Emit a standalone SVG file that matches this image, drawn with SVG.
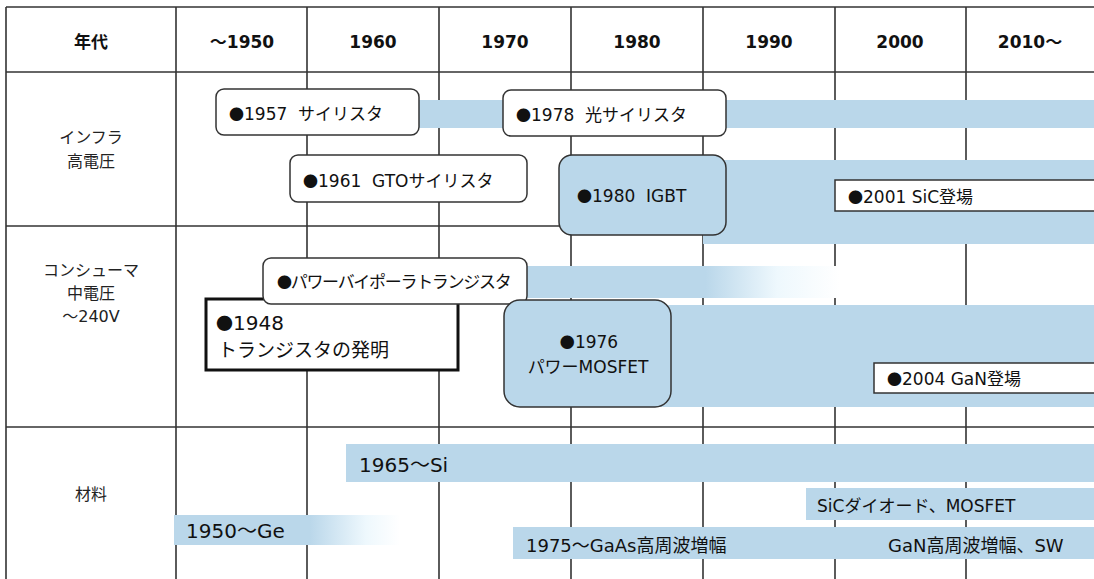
<svg xmlns="http://www.w3.org/2000/svg" width="1094" height="579" viewBox="0 0 1094 579">
<defs>
<style>
.grid{stroke:#333;stroke-width:1.6;fill:none}
.bar{fill:#BAD7EA}
.wbox{fill:#fff;stroke:#333;stroke-width:1.5}
.bbox{fill:#BAD7EA;stroke:#333;stroke-width:1.5}
text{font-family:"DejaVu Sans","Noto Sans CJK JP",sans-serif;fill:#111;white-space:pre}
.h{font-size:17px;font-weight:bold;text-anchor:middle}
.lbl{font-size:16px;text-anchor:middle;fill:#222}
.t{font-size:17px}
.tm{font-size:18px}
.tl{font-size:20px}
.b{font-family:"Noto Sans CJK JP",sans-serif;font-size:15px}
</style>
<linearGradient id="gBip" gradientUnits="userSpaceOnUse" x1="527" y1="0" x2="840" y2="0">
<stop offset="0" stop-color="#BAD7EA"/>
<stop offset="0.57" stop-color="#BAD7EA"/>
<stop offset="0.8" stop-color="#EEF8FD"/>
<stop offset="1" stop-color="#FFFFFF"/>
</linearGradient>
<linearGradient id="gGe" gradientUnits="userSpaceOnUse" x1="174" y1="0" x2="400" y2="0">
<stop offset="0" stop-color="#BAD7EA"/>
<stop offset="0.6" stop-color="#BAD7EA"/>
<stop offset="0.85" stop-color="#EEF8FD"/>
<stop offset="1" stop-color="#FFFFFF"/>
</linearGradient>
</defs>
<rect width="1094" height="579" fill="#fff"/>
<g id="grid" class="grid">
<line x1="6" y1="7" x2="1094" y2="7"/>
<line x1="6" y1="72" x2="1094" y2="72"/>
<line x1="6" y1="226" x2="1094" y2="226"/>
<line x1="6" y1="427" x2="1094" y2="427"/>
<line x1="6" y1="7" x2="6" y2="579"/>
<line x1="176" y1="7" x2="176" y2="579"/>
<line x1="307" y1="7" x2="307" y2="579"/>
<line x1="439" y1="7" x2="439" y2="579"/>
<line x1="571" y1="7" x2="571" y2="579"/>
<line x1="703" y1="7" x2="703" y2="579"/>
<line x1="835" y1="7" x2="835" y2="579"/>
<line x1="966" y1="7" x2="966" y2="579"/>
</g>
<g id="header">
<text class="h" x="91" y="48">年代</text>
<text class="h" x="242" y="48">～1950</text>
<text class="h" x="373" y="48">1960</text>
<text class="h" x="505" y="48">1970</text>
<text class="h" x="637" y="48">1980</text>
<text class="h" x="769" y="48">1990</text>
<text class="h" x="900" y="48">2000</text>
<text class="h" x="1030" y="48">2010～</text>
</g>
<g id="rowlabels">
<text class="lbl" x="91" y="143">インフラ</text>
<text class="lbl" x="91" y="167">高電圧</text>
<text class="lbl" x="91" y="276">コンシューマ</text>
<text class="lbl" x="91" y="299">中電圧</text>
<text class="lbl" x="91" y="322">～240V</text>
<text class="lbl" x="91" y="500">材料</text>
</g>
<g id="connectors">
<rect class="bar" x="415" y="100" width="679" height="28"/>
<rect class="bar" x="703" y="160" width="391" height="84"/>
<rect x="520" y="266" width="320" height="32" fill="url(#gBip)"/>
<rect class="bar" x="660" y="305" width="434" height="102"/>
<rect class="bar" x="346" y="444" width="748" height="38"/>
<rect class="bar" x="806" y="488" width="288" height="32"/>
<rect x="174" y="515" width="226" height="30" fill="url(#gGe)"/>
<rect class="bar" x="513" y="527" width="581" height="32"/>
</g>
<g id="n1957"><rect class="wbox" x="216" y="89" width="203" height="46" rx="8"/><text class="t" x="229" y="120"><tspan class="b">●</tspan>1957  サイリスタ</text></g>
<g id="n1978"><rect class="wbox" x="503" y="90" width="223" height="46" rx="8"/><text class="t" x="516" y="121"><tspan class="b">●</tspan>1978  光サイリスタ</text></g>
<g id="n1961"><rect class="wbox" x="290" y="155" width="237" height="47" rx="8"/><text class="t" x="303" y="187"><tspan class="b">●</tspan>1961  GTOサイリスタ</text></g>
<g id="n1980"><rect class="bbox" x="559" y="155" width="167" height="80" rx="13"/><text class="t" x="577" y="202"><tspan class="b">●</tspan>1980  IGBT</text></g>
<g id="n2001"><rect class="wbox" x="835" y="180" width="262" height="31"/><text class="t" x="848" y="203"><tspan class="b">●</tspan>2001 SiC登場</text></g>
<g id="n1948"><rect fill="#fff" stroke="#111" stroke-width="3" x="206" y="299" width="252" height="71"/><text class="tl" x="216" y="330"><tspan class="b" style="font-size:17px">●</tspan>1948</text><text class="tl" x="218" y="357" style="font-size:19px">トランジスタの発明</text></g>
<g id="nbip"><rect class="wbox" x="263" y="258" width="264" height="46" rx="8"/><text class="t" x="277" y="288" letter-spacing="-1.3"><tspan class="b">●</tspan>パワーバイポーラトランジスタ</text></g>
<g id="n1976"><rect class="bbox" x="504" y="300" width="167" height="107" rx="16"/><text class="t" x="589" y="348" text-anchor="middle"><tspan class="b">●</tspan>1976</text><text class="t" x="588" y="373" text-anchor="middle">パワーMOSFET</text></g>
<g id="n2004"><rect class="wbox" x="874" y="363" width="223" height="30"/><text class="t" x="887" y="385"><tspan class="b">●</tspan>2004 GaN登場</text></g>
<g id="materials">
<text class="tl" x="359" y="472">1965～Si</text>
<text class="t" x="817" y="512">SiCダイオード、MOSFET</text>
<text class="tl" x="186" y="538">1950～Ge</text>
<text class="tm" x="526" y="552">1975～GaAs高周波増幅</text>
<text class="tm" x="888" y="552">GaN高周波増幅、SW</text>
</g>
</svg>
